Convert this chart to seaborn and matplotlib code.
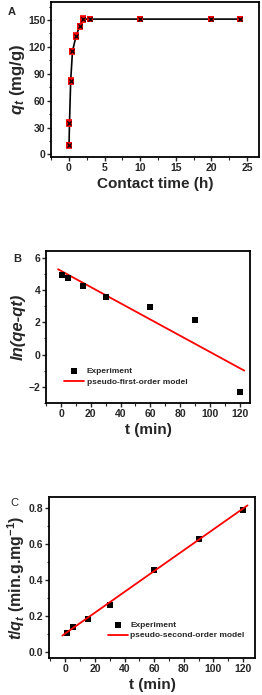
import numpy as np
import pandas as pd
import matplotlib
matplotlib.use("Agg")
import matplotlib.pyplot as plt
import seaborn as sns
from matplotlib.ticker import MultipleLocator, AutoMinorLocator

# Panel A: contact time (h) vs q_t
t_hours = [0.017, 0.083, 0.25, 0.5, 1.0, 1.5, 2.0, 3.0, 10.0, 20.0, 24.0]
qt_vals = [10, 35, 82, 115, 132, 143, 151, 151, 151, 151, 151]
qt_err = [3, 3, 3, 3, 3, 3, 3, 2, 2, 2, 2]

# Panel B: pseudo-first-order
t_min = [1, 5, 15, 30, 60, 90, 120]
ln_vals = [4.95, 4.75, 4.25, 3.6, 2.95, 2.15, -2.3]
pfo_x = [-2, 123]
pfo_y = [5.3, -1.0]

# Panel C: pseudo-second-order
tq_vals = [0.105, 0.14, 0.185, 0.26, 0.455, 0.63, 0.79]
pso_x = [-2, 123]
pso_y = [0.09, 0.815]

sns.set_style("ticks")
plt.rcParams['font.family'] = ['Liberation Sans', 'DejaVu Sans']
plt.rcParams['font.weight'] = 'bold'
plt.rcParams['mathtext.fontset'] = 'custom'
plt.rcParams['mathtext.rm'] = 'Liberation Sans:bold'
plt.rcParams['mathtext.it'] = 'Liberation Sans:bold:italic'
plt.rcParams['mathtext.bf'] = 'Liberation Sans:bold'

fig = plt.figure(figsize=(2.62, 6.95), dpi=100)
axA = fig.add_axes([0.195, 0.774, 0.794, 0.223])
axB = fig.add_axes([0.176, 0.420, 0.779, 0.219])
axC = fig.add_axes([0.187, 0.0532, 0.786, 0.232])

def style(ax):
    for s in ax.spines.values():
        s.set_linewidth(1.3)
        s.set_color('black')
    ax.tick_params(axis='both', which='major', direction='out', length=3, width=1.0,
                   labelsize=7.5, pad=1.2, top=False, right=False)
    ax.tick_params(axis='both', which='minor', direction='out', length=1.8, width=0.8,
                   top=False, right=False)
    ax.xaxis.set_minor_locator(AutoMinorLocator(2))
    ax.yaxis.set_minor_locator(AutoMinorLocator(2))
    for lab in ax.get_xticklabels() + ax.get_yticklabels():
        lab.set_fontweight('bold')

# ---- A ----
dfA = pd.DataFrame({"t": t_hours, "q": qt_vals, "err": qt_err})
sns.lineplot(data=dfA, x="t", y="q", ax=axA, color='black', lw=1.2, zorder=2)
axA.errorbar(dfA.t, dfA.q, yerr=dfA.err, fmt='none', ecolor='red', elinewidth=1.0,
             capsize=2.0, capthick=1.2, zorder=3)
axA.scatter(dfA.t, dfA.q, marker='s', s=16, color='red', zorder=4, linewidths=0)
axA.scatter(dfA.t, dfA.q, marker='x', s=9, color='black', zorder=5, linewidths=0.9)
axA.set_xlim(-2.5, 26.7)
axA.set_ylim(-3, 170)
axA.xaxis.set_major_locator(MultipleLocator(5))
axA.yaxis.set_major_locator(MultipleLocator(30))
axA.set_xlabel("Contact time (h)", fontsize=11, fontweight='bold', labelpad=3)
axA.set_ylabel(r"$q_t$ (mg/g)", fontsize=12, fontweight='bold', labelpad=1)
style(axA)
fig.text(8 / 262, 1 - 12 / 695, "A", fontsize=8, fontweight='bold', va='center', ha='left')

# ---- B ----
dfB = pd.DataFrame({"t": t_min, "y": ln_vals})
axB.plot(pfo_x, pfo_y, color='red', lw=1.3, label='pseudo-first-order model', zorder=2)
sns.scatterplot(data=dfB, x="t", y="y", ax=axB, marker='s', s=24, color='black',
                linewidth=0, label='Experiment', zorder=3)
axB.set_xlim(-10, 127)
axB.set_ylim(-3.02, 6.44)
axB.xaxis.set_major_locator(MultipleLocator(20))
axB.yaxis.set_major_locator(MultipleLocator(2))
axB.set_xlabel("t (min)", fontsize=11, fontweight='bold', labelpad=3)
axB.set_ylabel("ln(qe-qt)", fontsize=12, fontweight='bold', fontstyle='italic', labelpad=2)
h, l = axB.get_legend_handles_labels()
axB.legend(h[::-1], l[::-1], loc='lower left', bbox_to_anchor=(0.09, 0.115), frameon=False,
           prop={'weight': 'bold', 'size': 6}, handlelength=2.4, handletextpad=0.3,
           labelspacing=0.35, borderpad=0, borderaxespad=0, markerscale=0.8)
style(axB)
fig.text(13 / 262, 1 - 259 / 695, "B", fontsize=8, fontweight='bold', va='center', ha='left')

# ---- C ----
dfC = pd.DataFrame({"t": t_min, "y": tq_vals})
axC.plot(pso_x, pso_y, color='red', lw=1.3, label='pseudo-second-order model', zorder=3)
sns.scatterplot(data=dfC, x="t", y="y", ax=axC, marker='s', s=24, color='black',
                linewidth=0, label='Experiment', zorder=2)
axC.set_xlim(-11, 128)
axC.set_ylim(-0.035, 0.863)
axC.xaxis.set_major_locator(MultipleLocator(20))
axC.yaxis.set_major_locator(MultipleLocator(0.2))
axC.set_xlabel("t (min)", fontsize=11, fontweight='bold', labelpad=3)
axC.set_ylabel(r"$t/q_t$ (min.g.mg$^{-1}$)", fontsize=11.5, fontweight='bold', labelpad=1)
h, l = axC.get_legend_handles_labels()
axC.legend(h[::-1], l[::-1], loc='lower left', bbox_to_anchor=(0.285, 0.115), frameon=False,
           prop={'weight': 'bold', 'size': 6}, handlelength=2.4, handletextpad=0.3,
           labelspacing=0.35, borderpad=0, borderaxespad=0, markerscale=0.8)
style(axC)
fig.text(14 / 262, 1 - 503 / 695, "C", fontsize=8, va='center', ha='center',
         fontweight='normal')

fig.savefig("out.png", dpi=100)
